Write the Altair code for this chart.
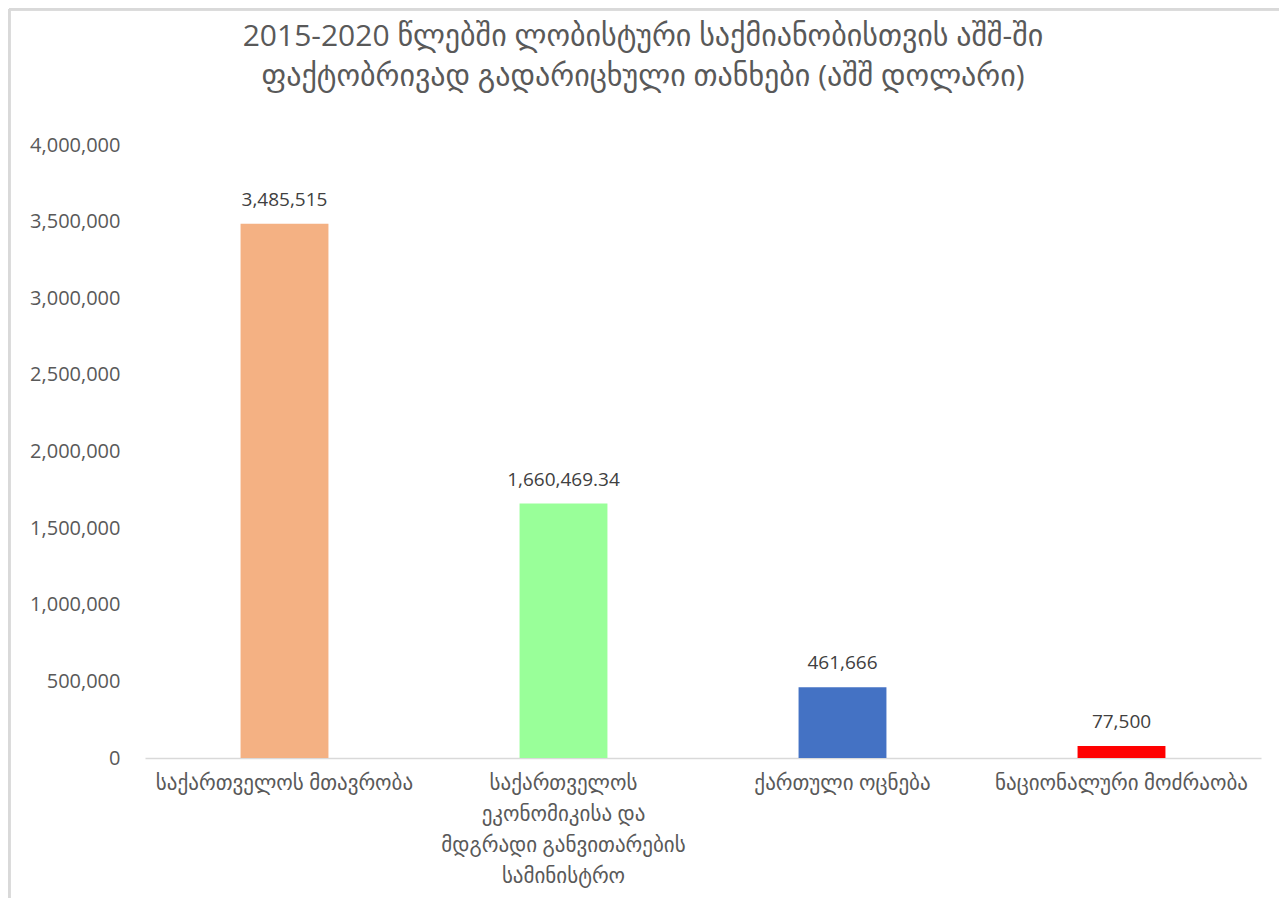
import altair as alt
import pandas as pd

categories = [
    "საქართველოს მთავრობა",
    "საქართველოს\nეკონომიკისა და\nმდგრადი განვითარების\nსამინისტრო",
    "ქართული ოცნება",
    "ნაციონალური მოძრაობა",
]
values = [3485515, 1660469.34, 461666, 77500]
labels = ["3,485,515", "1,660,469.34", "461,666", "77,500"]
colors = ["#F4B183", "#99FF99", "#4472C4", "#FF0000"]
title_lines = [
    "2015-2020 წლებში ლობისტური საქმიანობისთვის აშშ-ში",
    "ფაქტობრივად გადარიცხული თანხები (აშშ დოლარი)",
]

df = pd.DataFrame({"cat": categories, "val": values, "lab": labels, "col": colors})

FONT = "Open Sans, DejaVu Sans, sans-serif"

x = alt.X(
    "cat:N",
    sort=categories,
    title=None,
    scale=alt.Scale(paddingInner=0.685, paddingOuter=0.3425),
    axis=alt.Axis(
        labelExpr="split(datum.value, '\\n')",
        labelAngle=0,
        labelFontSize=21,
        labelColor="#595959",
        labelFont=FONT,
        labelLineHeight=31,
        labelPadding=14,
        ticks=False,
        domainColor="#D9D9D9",
        domainWidth=1.5,
        labelLimit=400,
    ),
)
y = alt.Y(
    "val:Q",
    title=None,
    scale=alt.Scale(domain=[0, 4000000]),
    axis=alt.Axis(
        values=[0, 500000, 1000000, 1500000, 2000000, 2500000, 3000000, 3500000, 4000000],
        format=",d",
        labelFontSize=20,
        labelColor="#595959",
        labelFont=FONT,
        labelPadding=25,
        ticks=False,
        domain=False,
        grid=False,
    ),
)

bars = alt.Chart(df).mark_bar().encode(
    x=x, y=y, color=alt.Color("col:N", scale=None)
)
text = alt.Chart(df).mark_text(
    dy=-24, fontSize=19, color="#404040", font=FONT
).encode(x=alt.X("cat:N", sort=categories), y="val:Q", text="lab:N")

# decorative chart-frame edges (left and top)
frame_left = alt.Chart(df).mark_rule(color="#D9D9D9", strokeWidth=3, clip=False).encode(
    x=alt.value(-136), y=alt.value(-136), y2=alt.value(800)
)
frame_top = alt.Chart(df).mark_rule(color="#D9D9D9", strokeWidth=3, clip=False).encode(
    x=alt.value(-136), x2=alt.value(1160), y=alt.value(-136)
)

chart = (
    (frame_left + frame_top + bars + text)
    .properties(
        width=1116,
        height=613,
        background="white",
        autosize=alt.AutoSizeParams(type="none"),
        padding={"left": 137, "top": 137, "right": 18, "bottom": 140},
        title=alt.TitleParams(
            text=title_lines,
            fontSize=30,
            font=FONT,
            fontWeight="normal",
            color="#595959",
            anchor="middle",
            dx=-60,
            offset=-84,
            lineHeight=40,
        ),
    )
    .configure_view(stroke=None, strokeWidth=0)
)

chart.save("out.html", embed_options={"renderer": "svg", "actions": False})
